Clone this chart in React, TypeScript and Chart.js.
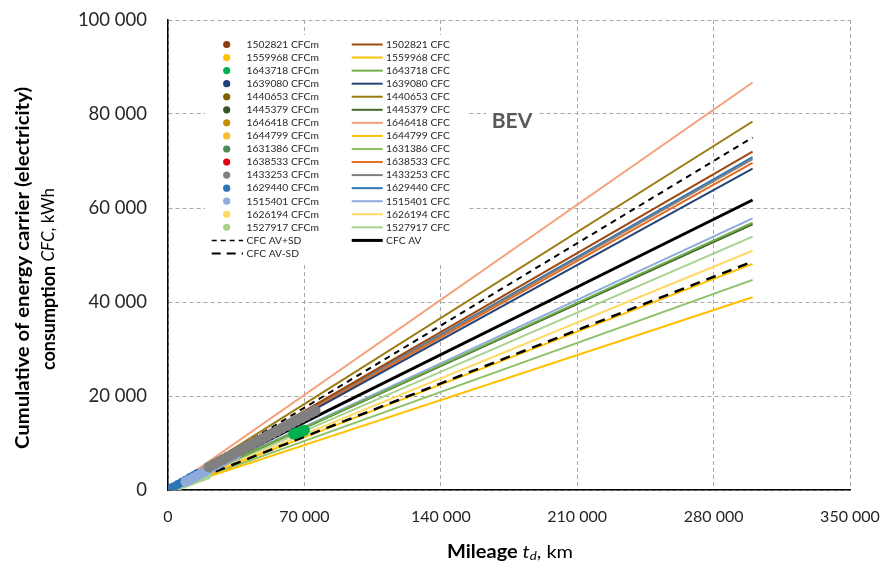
import React, { useEffect, useRef } from 'react';
import { Chart, registerables } from 'chart.js';

Chart.register(...registerables);

// ---------- data ----------
const vehicleIds = ['1502821', '1559968', '1643718', '1639080', '1440653', '1445379', '1646418', '1644799', '1631386', '1638533', '1433253', '1629440', '1515401', '1626194', '1527917'];
const lineEndMileage = 300000;
const cfcAtLineEnd = [72000, 41000, 56900, 68400, 78400, 56500, 86700, 48100, 44700, 69600, 70400, 70800, 57800, 50900, 53900];
const cfcAvEnd = 61700;
const cfcAvPlusSdEnd = 75000;
const cfcAvMinusSdEnd = 48600;

const pointColors = ['#8B3E12', '#FFC000', '#00B050', '#203F78', '#7F6000', '#375623', '#BF8F00', '#F4C030', '#4E8B55', '#E0001A', '#808080', '#2E75B6', '#8FAADC', '#FFD966', '#A9D18E'];
const lineColors = ['#9E480E', '#FFC000', '#70AD47', '#264478', '#9C7A12', '#43682B', '#F4A07A', '#FFC000', '#8CC168', '#E46C20', '#7F7F7F', '#2E75B6', '#8FAADC', '#FFD966', '#A9D18E'];

// measured points (mileage km, CFC kWh)
const measuredKm: number[][] = [
  [500, 1500],
  [800, 2000],
  [64500, 66000, 67500, 69000, 70000],
  [600, 1200],
  [27000, 30000, 33000],
  [700, 1500],
  [1000, 2500],
  [900],
  [600, 1800],
  [500],
  [21000, 23500, 26000, 28500, 31000, 33500, 36000, 38500, 41000, 43500, 46000, 48500, 51000, 53500, 56000, 58500, 61000, 63500, 66000, 68500, 71000, 73500, 75500],
  [1000, 3000, 5000, 7000, 9000, 11000, 13000, 15000],
  [9000, 11000, 13000, 15000, 17000, 19000, 21000, 23000, 25000, 27000, 29000, 31000, 33000, 35000],
  [1200],
  [500, 2000, 4000, 6000, 8000, 10000, 12000, 14000, 16000, 18000, 20000],
];
const measuredCfc: number[][] = [
  [120, 350],
  [110, 280],
  [11900, 12100, 12350, 12550, 12700],
  [140, 280],
  [6700, 7400, 8100],
  [150, 330],
  [240, 600],
  [180],
  [110, 300],
  [100],
  [4900, 5450, 6000, 6550, 7100, 7650, 8200, 8750, 9300, 9850, 10400, 10950, 11500, 12050, 12600, 13150, 13700, 14250, 14800, 15350, 15900, 16450, 16900],
  [230, 700, 1170, 1640, 2100, 2580, 3050, 3500],
  [1750, 2150, 2600, 3050, 3500, 3950, 4400, 4850, 5300, 5750, 6200, 6650, 7100, 7500],
  [250],
  [80, 320, 640, 950, 1270, 1580, 1900, 2200, 2520, 2830, 3150],
];
// drawing order of the measured series (first = on top)
const pointDrawOrder = [2, 10, 4, 12, 11, 14, 0, 1, 3, 5, 6, 7, 8, 9, 13];

const xTicks = [0, 70000, 140000, 210000, 280000, 350000];
const yTicks = [0, 20000, 40000, 60000, 80000, 100000];

const fmt = (v: number) => String(Math.round(v)).replace(/\B(?=(\d{3})+(?!\d))/g, ' ');

const FONT = 'Lato, "Open Sans", sans-serif';

type Run = { t: string; f: string; dy?: number };

const overlayPlugin = {
  id: 'overlay',
  afterDraw(chart: any) {
    const ctx: CanvasRenderingContext2D = chart.ctx;
    ctx.save();
    // legend box
    ctx.fillStyle = '#FFFFFF';
    ctx.fillRect(205, 35, 263, 228);
    const row0 = 44.5;
    const dy = 13.06;
    ctx.font = `10.3px ${FONT}`;
    ctx.textBaseline = 'middle';
    ctx.fillStyle = '#262626';
    for (let i = 0; i < vehicleIds.length; i++) {
      const y = row0 + i * dy;
      ctx.beginPath();
      ctx.fillStyle = pointColors[i];
      ctx.arc(226.7, y, 3.6, 0, Math.PI * 2);
      ctx.fill();
      ctx.fillStyle = '#262626';
      ctx.fillText(`${vehicleIds[i]} CFCm`, 246.5, y);
      ctx.beginPath();
      ctx.strokeStyle = lineColors[i];
      ctx.lineWidth = 2;
      ctx.moveTo(351.7, y);
      ctx.lineTo(382.7, y);
      ctx.stroke();
      ctx.fillText(`${vehicleIds[i]} CFC`, 386, y);
    }
    let y = row0 + 15 * dy;
    ctx.strokeStyle = '#000';
    ctx.lineWidth = 1.5;
    ctx.setLineDash([5, 4]);
    ctx.beginPath();
    ctx.moveTo(211.7, y);
    ctx.lineTo(243, y);
    ctx.stroke();
    ctx.fillText('CFC AV+SD', 246.5, y);
    ctx.setLineDash([]);
    ctx.lineWidth = 3;
    ctx.beginPath();
    ctx.moveTo(351.7, y);
    ctx.lineTo(382.7, y);
    ctx.stroke();
    ctx.fillText('CFC AV', 386, y);
    y = row0 + 16 * dy;
    ctx.lineWidth = 2;
    ctx.setLineDash([9, 6]);
    ctx.beginPath();
    ctx.moveTo(211.7, y);
    ctx.lineTo(243, y);
    ctx.stroke();
    ctx.setLineDash([]);
    ctx.fillText('CFC AV-SD', 246.5, y);

    // BEV label
    ctx.fillStyle = '#FFFFFF';
    ctx.fillRect(486, 104, 52, 32);
    ctx.fillStyle = '#595959';
    ctx.font = `bold 21px ${FONT}`;
    ctx.textAlign = 'center';
    ctx.fillText('BEV', 512, 121);

    // mixed-style text fitted to a target width, centred at the origin
    const drawRuns = (runs: Run[], target: number) => {
      let total = 0;
      for (const r of runs) { ctx.font = r.f; total += ctx.measureText(r.t).width; }
      const k = target / total;
      ctx.save();
      ctx.scale(k, 1);
      let x = -total / 2;
      ctx.textAlign = 'left';
      for (const r of runs) {
        ctx.font = r.f;
        ctx.fillText(r.t, x, r.dy || 0);
        x += ctx.measureText(r.t).width;
      }
      ctx.restore();
    };

    ctx.fillStyle = '#000';
    ctx.save();
    ctx.translate(23, 268);
    ctx.rotate(-Math.PI / 2);
    drawRuns([{ t: 'Cumulative of energy carrier (electricity)', f: `bold 18px ${FONT}` }], 362);
    ctx.restore();

    ctx.save();
    ctx.translate(49, 279);
    ctx.rotate(-Math.PI / 2);
    drawRuns([
      { t: 'consumption ', f: `bold 18px ${FONT}` },
      { t: 'CFC', f: `italic 17px ${FONT}` },
      { t: ', kWh', f: `17px ${FONT}` },
    ], 182);
    ctx.restore();

    // X title
    ctx.save();
    ctx.translate(510, 552);
    drawRuns([
      { t: 'Mileage ', f: `bold 18px ${FONT}` },
      { t: 't', f: `italic 18px ${FONT}` },
      { t: 'd', f: `italic 12px ${FONT}`, dy: 4 },
      { t: ', km', f: `18px ${FONT}` },
    ], 126);
    ctx.restore();

    ctx.restore();
  },
};

export default function App() {
  const ref = useRef<HTMLCanvasElement>(null);
  useEffect(() => {
    if (!ref.current) return;
    const datasets: any[] = [];
    // measured points on top
    for (const i of pointDrawOrder) {
      datasets.push({
        label: `${vehicleIds[i]} CFCm`,
        data: measuredKm[i].map((x, j) => ({ x, y: measuredCfc[i][j] })),
        backgroundColor: pointColors[i],
        borderColor: pointColors[i],
        pointRadius: i === 2 ? 5.5 : i === 10 ? 5.5 : i === 12 ? 5 : i === 4 ? 3 : 4.5,
        pointBorderWidth: 0,
        showLine: false,
      });
    }
    datasets.push({
      label: 'CFC AV',
      data: [{ x: 0, y: 0 }, { x: lineEndMileage, y: cfcAvEnd }],
      borderColor: '#000',
      borderWidth: 3,
      pointRadius: 0,
      showLine: true,
    });
    datasets.push({
      label: 'CFC AV+SD',
      data: [{ x: 0, y: 0 }, { x: lineEndMileage, y: cfcAvPlusSdEnd }],
      borderColor: '#000',
      borderWidth: 2,
      borderDash: [6, 5],
      pointRadius: 0,
      showLine: true,
    });
    datasets.push({
      label: 'CFC AV-SD',
      data: [{ x: 0, y: 0 }, { x: lineEndMileage, y: cfcAvMinusSdEnd }],
      borderColor: '#000',
      borderWidth: 2.5,
      borderDash: [10, 7],
      pointRadius: 0,
      showLine: true,
    });
    for (let i = 0; i < vehicleIds.length; i++) {
      datasets.push({
        label: `${vehicleIds[i]} CFC`,
        data: [{ x: 0, y: 0 }, { x: lineEndMileage, y: cfcAtLineEnd[i] }],
        borderColor: lineColors[i],
        borderWidth: 2,
        pointRadius: 0,
        showLine: true,
      });
    }

    const chart = new Chart(ref.current, {
      type: 'scatter',
      data: { datasets },
      options: {
        animation: false,
        responsive: false,
        maintainAspectRatio: false,
        layout: { padding: { top: 20, right: 30, left: 0, bottom: 0 } },
        plugins: { legend: { display: false }, tooltip: { enabled: false } },
        scales: {
          x: {
            type: 'linear',
            min: 0,
            max: 350000,
            afterFit: (s: any) => { s.height = 73; s.paddingLeft = 0; s.paddingRight = 0; },
            afterBuildTicks: (s: any) => { s.ticks = xTicks.map((v) => ({ value: v })); },
            ticks: {
              padding: 17,
              color: '#262626',
              font: { family: FONT, size: 16 },
              callback: (v: any) => fmt(Number(v)),
              maxRotation: 0,
            },
            grid: { color: '#A6A6A6', lineWidth: 1, drawTicks: false },
            border: { color: '#000', width: 1.5, dash: [4, 3] },
          },
          y: {
            type: 'linear',
            min: 0,
            max: 100000,
            afterFit: (s: any) => { s.width = 168; s.paddingTop = 0; s.paddingBottom = 0; },
            afterBuildTicks: (s: any) => { s.ticks = yTicks.map((v) => ({ value: v })); },
            ticks: {
              padding: 21,
              color: '#262626',
              font: { family: FONT, size: 18.5 },
              callback: (v: any) => fmt(Number(v)),
            },
            grid: { color: '#A6A6A6', lineWidth: 1, drawTicks: false },
            border: { color: '#000', width: 1.5, dash: [4, 3] },
          },
        },
      },
      plugins: [overlayPlugin],
    });
    return () => chart.destroy();
  }, []);
  return (
    <div style={{ position: 'absolute', left: 0, top: 0, width: 880, height: 563, background: '#fff' }}>
      <canvas ref={ref} width={880} height={563} style={{ width: 880, height: 563, display: 'block' }} />
    </div>
  );
}
